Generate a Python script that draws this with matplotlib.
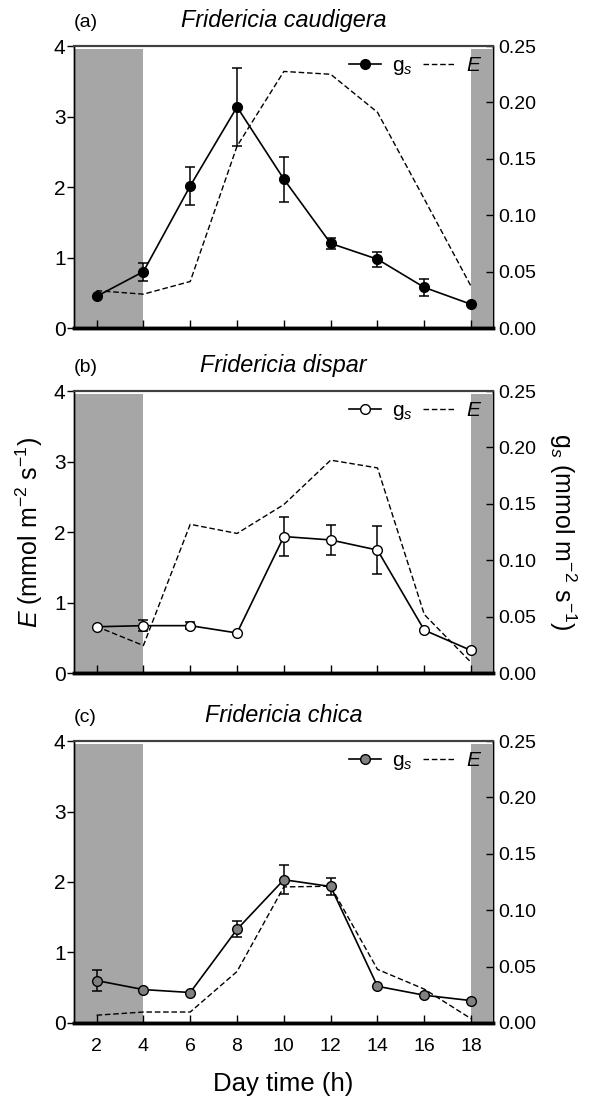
import numpy as np
from matplotlib import pyplot as plt

plt.rcParams['font.family'] = ['Liberation Sans', 'DejaVu Sans']
plt.rcParams['mathtext.fontset'] = 'custom'
plt.rcParams['mathtext.rm'] = 'Liberation Sans'
plt.rcParams['mathtext.it'] = 'Liberation Sans:italic'

hours = [2, 4, 6, 8, 10, 12, 14, 16, 18]

# (a) Fridericia caudigera
gs_a = [0.028, 0.050, 0.126, 0.196, 0.132, 0.075, 0.061, 0.036, 0.021]
gs_a_err = [0.0, 0.008, 0.017, 0.035, 0.020, 0.005, 0.0065, 0.0075, 0.0]
E_a = [0.53, 0.48, 0.66, 2.58, 3.64, 3.60, 3.06, 1.83, 0.59]

# (b) Fridericia dispar
gs_b = [0.041, 0.042, 0.042, 0.0355, 0.121, 0.118, 0.109, 0.038, 0.020]
gs_b_err = [0.0, 0.005, 0.003, 0.0, 0.017, 0.013, 0.021, 0.0, 0.0]
E_b = [0.66, 0.39, 2.11, 1.98, 2.39, 3.02, 2.91, 0.83, 0.15]

# (c) Fridericia chica
gs_c = [0.0376, 0.0296, 0.027, 0.083, 0.127, 0.121, 0.0325, 0.0246, 0.0198]
gs_c_err = [0.0093, 0.0, 0.0, 0.007, 0.013, 0.0074, 0.0, 0.0, 0.0]
E_c = [0.11, 0.155, 0.155, 0.73, 1.93, 1.94, 0.76, 0.48, 0.06]

panels = [
    ("(a)", "Fridericia caudigera", gs_a, gs_a_err, E_a, "black"),
    ("(b)", "Fridericia dispar", gs_b, gs_b_err, E_b, "white"),
    ("(c)", "Fridericia chica", gs_c, gs_c_err, E_c, "#808080"),
]

fig = plt.figure(figsize=(5.91, 10.97), dpi=100)
bottoms = [0.701, 0.3865, 0.0675]
xmin, xmax = 1.03, 18.93

for i, (tag, name, gs, gs_err, E, mfc) in enumerate(panels):
    ax = fig.add_axes([0.125, bottoms[i], 0.709, 0.257])
    ax2 = ax.twinx()

    ax.axvspan(xmin, 4, ymax=0.99, color="#a6a6a6", lw=0, zorder=0)
    ax.axvspan(18, xmax - 0.04, ymax=0.99, color="#a6a6a6", lw=0, zorder=0)

    lE, = ax.plot(hours, E, "k--", lw=1.0, dashes=(4, 2), label="$E$")
    ax2.errorbar(hours, gs, yerr=gs_err, fmt="none", ecolor="k", elinewidth=1.1,
                 capsize=3.5, capthick=1.1)
    lg, = ax2.plot(hours, gs, "k-", lw=1.2, marker="o", ms=7, mfc=mfc,
                   mec="k", mew=1.0, label="g$_s$")

    ax.set_xlim(xmin, xmax)
    ax.set_ylim(0, 4)
    ax2.set_ylim(0, 0.25)
    ax.set_xticks(hours)
    ax.set_yticks([0, 1, 2, 3, 4])
    ax2.set_yticks([0, 0.05, 0.10, 0.15, 0.20, 0.25])
    ax2.set_yticklabels(["0.00", "0.05", "0.10", "0.15", "0.20", "0.25"])

    ax.tick_params(axis="x", direction="in", length=6, width=1, labelsize=14, pad=11)
    ax.tick_params(axis="y", direction="out", length=5, width=1, labelsize=15, pad=1)
    ax2.tick_params(axis="y", direction="in", length=5, width=1, labelsize=14, pad=4)
    if i < 2:
        ax.set_xticklabels([])

    for a in (ax, ax2):
        a.spines["bottom"].set_linewidth(2.5)
        a.spines["top"].set_linewidth(1.5)
        a.spines["top"].set_color("#404040")
        a.spines["left"].set_linewidth(1.0)
        a.spines["right"].set_linewidth(1.0)

    ax.text(0.0, 1.055, tag, transform=ax.transAxes, fontsize=14, ha="left", va="bottom")
    ax.text(0.5, 1.05, name, transform=ax.transAxes, fontsize=16.8, style="italic",
            ha="center", va="bottom")

    ax2.legend([lg, lE], ["g$_s$", "$E$"], loc="upper right", ncol=2, frameon=False,
               fontsize=15, handlelength=1.55, columnspacing=0.45, handletextpad=0.55,
               borderaxespad=0.1)

    if i == 1:
        ax.set_ylabel("$E$ (mmol m$^{-2}$ s$^{-1}$)", fontsize=18, labelpad=6)
        ax2.set_ylabel("g$_s$ (mmol m$^{-2}$ s$^{-1}$)", fontsize=18, rotation=270,
                       labelpad=30)
    if i == 2:
        ax.set_xlabel("Day time (h)", fontsize=18.5, labelpad=12)

fig.savefig("out.png", dpi=100)
